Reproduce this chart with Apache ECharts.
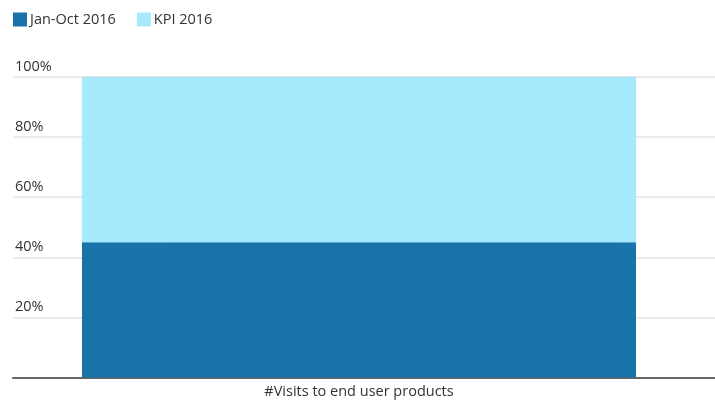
<!DOCTYPE html>
<html>
<head>
<meta charset="utf-8">
<script src="https://cdn.jsdelivr.net/npm/echarts@6/dist/echarts.min.js"></script>
<style>
  html, body { margin: 0; padding: 0; background: #fff; }
  #container { width: 715px; height: 405px; }
</style>
</head>
<body>
<div id="container"></div>
<script>
var categories = ['#Visits to end user products'];
var seriesNames = ['Jan-Oct 2016', 'KPI 2016'];
var actualValues = [45];
var kpiValues = [55];
var yTicks = [0, 20, 40, 60, 80, 100];

var myChart = echarts.init(document.getElementById('container'));
var font = 'Open Sans';
var option = {
    textStyle: { fontFamily: font },
    color: ['#1874a8', '#a6eafc'],
    legend: {
        data: seriesNames,
        left: 13,
        top: 12,
        padding: 0,
        itemWidth: 14,
        itemHeight: 14,
        itemGap: 21,
        icon: 'rect',
        itemStyle: { borderWidth: 0 },
        textStyle: { fontSize: 14.5, color: '#333', fontFamily: font, padding: [0, 0, 0, -2] }
    },
    grid: [
        { left: 13, right: 0, top: 77, bottom: 27.5 },
        { left: 13, right: 10, top: 77, bottom: 27.5 }
    ],
    xAxis: [
        {
            gridIndex: 0,
            type: 'category',
            data: categories,
            axisLine: { lineStyle: { color: '#666', width: 2 } },
            axisTick: { show: false },
            axisLabel: { show: false }
        },
        {
            gridIndex: 1,
            type: 'category',
            data: categories,
            axisLine: { show: false },
            axisTick: { show: false },
            axisLabel: { fontSize: 14.5, color: '#333', margin: 7, fontFamily: font }
        }
    ],
    yAxis: [
        {
            gridIndex: 0,
            type: 'value',
            min: yTicks[0],
            max: yTicks[yTicks.length - 1],
            interval: 20,
            axisLine: { show: false },
            axisTick: { show: false },
            splitLine: { lineStyle: { color: '#e4e4e4', width: 1.5 } },
            axisLabel: {
                inside: true,
                margin: 2,
                align: 'left',
                verticalAlign: 'bottom',
                padding: [0, 0, 3, 0],
                fontSize: 14.5,
                color: '#333',
                fontFamily: font,
                formatter: function (v) { return v === 0 ? '' : v + '%'; }
            }
        },
        {
            gridIndex: 1,
            type: 'value',
            min: yTicks[0],
            max: yTicks[yTicks.length - 1],
            interval: 20,
            show: false,
            splitLine: { show: false }
        }
    ],
    series: [
        {
            name: seriesNames[0],
            type: 'bar',
            stack: 'total',
            xAxisIndex: 1,
            yAxisIndex: 1,
            barWidth: 554,
            data: actualValues
        },
        {
            name: seriesNames[1],
            type: 'bar',
            stack: 'total',
            xAxisIndex: 1,
            yAxisIndex: 1,
            barWidth: 554,
            itemStyle: { borderColor: '#8fdcf2', borderWidth: 0.5 },
            data: kpiValues
        }
    ]
};
myChart.setOption(option, true);
window.onresize = function () {
    myChart.resize();
};
</script>
</body>
</html>
